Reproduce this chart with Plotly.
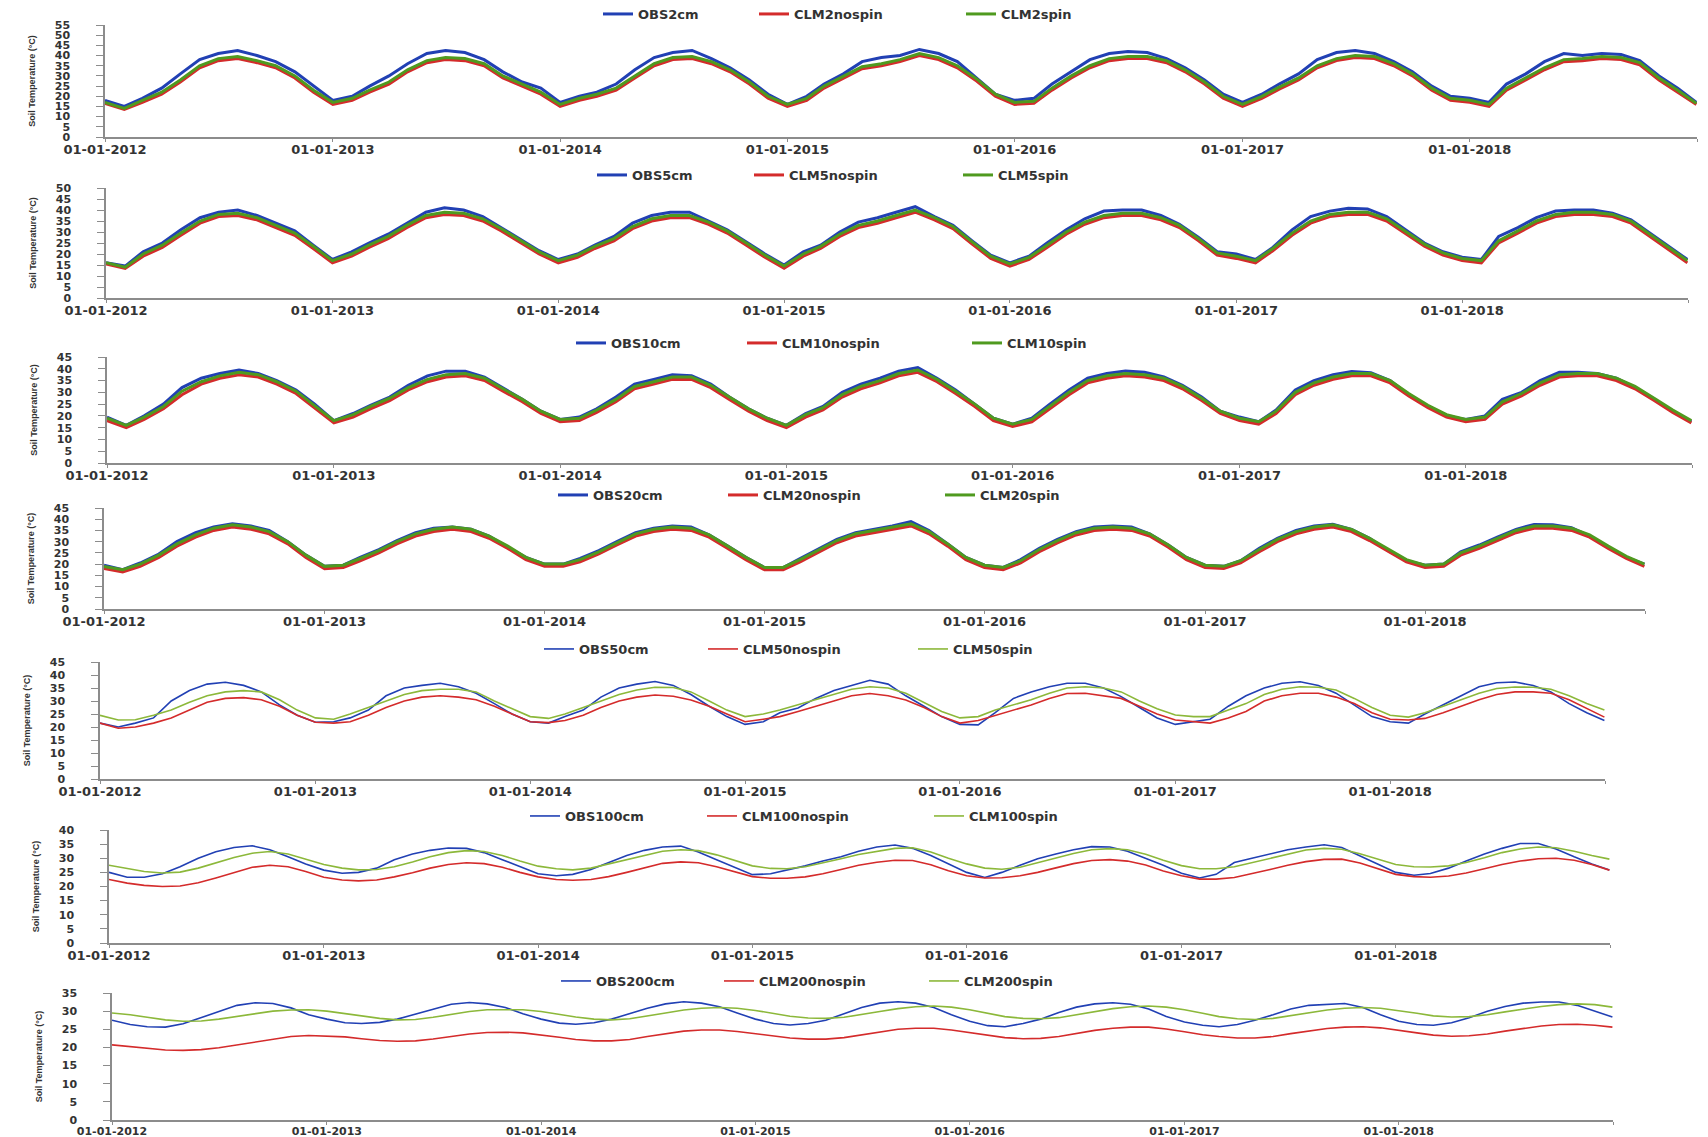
import pandas as pd
import plotly.graph_objects as go

# ---------------- data (monthly values, °C) ----------------
dates = list(pd.date_range("2012-01-01", periods=84, freq="MS")) + [pd.Timestamp("2018-12-31")]

obs2 = [18, 15, 19, 24, 31, 38, 41, 42.5, 40, 37, 32, 25,
        18, 20, 25, 30, 36, 41, 42.5, 41.5, 38, 32, 27, 24,
        17, 20, 22, 26, 33, 39, 41.5, 42.5, 38.5, 34, 28, 21,
        16, 20, 26, 31, 37, 39, 40, 43, 41, 37, 29, 21,
        18, 19, 26, 32, 38, 41, 42, 41.5, 38.5, 34, 28, 21,
        17, 21, 26, 31, 38, 41.5, 42.5, 41, 37, 32, 25, 20,
        19, 17, 26, 31, 37, 41, 40, 41, 40.5, 37.5, 30, 24, 17]
clm2_nospin = [16.5, 13.5, 17, 21, 27, 34, 37.5, 38.5, 36.5, 34, 29, 22,
               16, 18, 22, 26, 32, 36.5, 38, 37.5, 35, 29, 25, 21,
               15, 18, 20, 23, 29, 35, 38, 38.5, 36, 32, 26, 19,
               15, 18, 24, 29, 33.5, 35, 37, 40, 38, 34, 27.5, 20,
               16, 16.5, 23, 29, 34, 37.5, 38.5, 38.5, 36.5, 32, 26, 19,
               15, 19, 23.5, 28, 34, 37.5, 39, 38.5, 35, 30, 23, 18,
               17, 15, 23, 28, 33, 37, 37.5, 38.5, 38, 35.5, 28, 22, 16]
clm2_spin = [17, 14, 18, 22, 28, 35, 38.5, 39.5, 37.5, 35, 30, 23,
             17, 19, 23, 27, 33, 37.5, 39, 38.5, 36, 30, 26, 22,
             16, 19, 21, 24, 30, 36, 39, 39.5, 37, 33, 27, 20,
             16, 19, 25, 30, 34.5, 36, 38, 41, 39, 35, 28.5, 21,
             17, 17.5, 24, 30, 35, 38.5, 39.5, 39.5, 37.5, 33, 27, 20,
             16, 20, 24.5, 29, 35, 38.5, 40, 39.5, 36, 31, 24, 19,
             18, 16, 24, 29, 34, 38, 38.5, 39.5, 39, 36.5, 29, 23, 16.5]

obs5 = [16, 14.5, 21, 25, 31, 36.5, 39, 40, 37.5, 34, 30.5, 24,
        17.5, 21, 25, 29, 34, 39, 41, 40, 37, 32, 26.5, 21.5,
        17.5, 20, 24, 28, 34, 37.5, 39, 39, 35, 31, 25.5, 20,
        15, 21, 24, 30, 34.5, 36.5, 39, 41.5, 37, 33, 26, 19.5,
        16, 19, 25, 31, 36, 39.5, 40, 40, 37.5, 33.5, 27.5, 21,
        20, 17.5, 23, 31, 37, 39.5, 40.8, 40.5, 37, 31, 25, 21,
        18.5, 17.5, 28, 32, 36.5, 39.5, 40, 40, 38.5, 35.5, 29.5, 23.5, 17.5]
clm5_nospin = [15.5, 13.5, 19, 23, 28.5, 34, 37, 37.5, 35.5, 32, 28.5, 22.5,
               16, 19, 23, 27, 32, 36.5, 38, 37.5, 35, 30.5, 25, 20,
               16, 18.5, 22.5, 26, 31.5, 35, 36.5, 36.5, 33.5, 29.5, 24, 18.5,
               13.5, 19, 22.5, 28, 32, 34, 36.5, 39, 35.5, 31.5, 24.5, 18,
               14.5, 17.5, 23, 29, 33.5, 36.5, 37.5, 37.5, 35.5, 32, 26, 19.5,
               18, 16, 21.5, 28.5, 34, 37, 38, 38, 35, 29.5, 23.5, 19.5,
               17, 16, 25, 29.5, 34, 37, 38, 38, 37, 34, 28, 22, 16]
clm5_spin = [16, 14, 20, 24, 29.5, 35, 38, 38.5, 36.5, 33, 29.5, 23.5,
             17, 20, 24, 28, 33, 37.5, 39, 38.5, 36, 31.5, 26, 21,
             17, 19.5, 23.5, 27, 32.5, 36, 37.5, 37.5, 34.5, 30.5, 25, 19.5,
             14.5, 20, 23.5, 29, 33, 35, 37.5, 40, 36.5, 32.5, 25.5, 19,
             15.5, 18.5, 24, 30, 34.5, 37.5, 38.5, 38.5, 36.5, 33, 27, 20.5,
             19, 17, 22.5, 29.5, 35, 38, 39, 39, 36, 30.5, 24.5, 20.5,
             18, 17, 26, 30.5, 35, 38, 39, 39, 38, 35, 29, 23, 17]

obs10 = [19.5, 16, 20, 25, 32, 36, 38, 39.5, 38, 35, 31, 25,
         18, 21, 24.5, 28, 33, 37, 39, 39, 36.5, 32, 27, 22,
         18.5, 19.5, 23, 28, 33.5, 35.5, 37.5, 37, 33.5, 28, 23, 19,
         16, 21, 24, 30, 33.5, 36, 39, 40.5, 36, 31, 25, 19,
         16.5, 19, 25, 31, 36, 38, 39, 38.5, 36.5, 33, 28, 22,
         19.5, 17.5, 22.5, 31, 35, 37.5, 38.8, 38.3, 35, 29, 24, 20,
         18.5, 20, 27, 30, 35, 38.5, 38.5, 38, 36, 32, 27, 22, 17.5]
clm10_nospin = [18, 15, 18.5, 23, 29, 33.5, 36, 37.5, 36.5, 33.5, 29.5, 23.5,
                17, 19.5, 23, 26.5, 31, 34.5, 36.5, 37, 35, 30.5, 26, 21,
                17.5, 18, 21.5, 26, 31.5, 33.5, 35.5, 35.5, 32, 27, 22, 18,
                15, 19.5, 22.5, 28, 31.5, 34, 37, 38.5, 34.5, 29.5, 24, 18,
                15.5, 17.5, 23, 29, 34, 36, 37, 36.5, 35, 31.5, 26.5, 21,
                18, 16.5, 21, 29, 33, 35.5, 37, 37, 34, 28.5, 23.5, 19.5,
                17.5, 18.5, 25, 28.5, 33, 36.5, 37, 37, 35, 31.5, 26.5, 21.5, 17]
clm10_spin = [19, 16, 19.5, 24, 30.5, 34.5, 37, 38.5, 37.5, 34.5, 30.5, 24.5,
              18, 20.5, 24, 27.5, 32, 35.5, 37.5, 38, 36, 31.5, 27, 22,
              18.5, 19, 22.5, 27, 32.5, 34.5, 36.5, 36.5, 33, 28, 23, 19,
              16, 20.5, 23.5, 29, 32.5, 35, 38, 39.5, 35.5, 30.5, 25, 19,
              16.5, 18.5, 24, 30, 35, 37, 38, 37.5, 36, 32.5, 27.5, 22,
              19, 17.5, 22, 30, 34, 36.5, 38, 38, 35, 29.5, 24.5, 20.5,
              18.5, 19.5, 26, 29.5, 34, 37.5, 38, 38, 36, 32.5, 27.5, 22.5, 18]

obs20 = [19.5, 17.5, 20.5, 24.5, 30, 34, 36.5, 38, 37, 35, 30, 24,
         19, 19.5, 23, 26.5, 30.5, 34, 36, 36.5, 35.5, 32.5, 27.5, 23,
         20, 20, 22.5, 26, 30, 34, 36, 37, 36.5, 33, 28, 23,
         18.5, 18.5, 22.5, 27, 31, 34, 35.5, 37, 39, 35, 29, 23,
         19.5, 18.5, 22, 27, 31, 34.5, 36.5, 37, 36.5, 33.5, 28.5, 23,
         19.5, 19, 21.5, 27, 31.5, 35, 37, 37.8, 35.5, 31.5, 26, 21.5,
         19.5, 20, 25.5, 28.5, 32, 35.5, 37.7, 37.5, 36.2, 32.5, 27.5, 23, 20]
clm20_nospin = [18, 16.5, 19, 23, 28, 32, 35, 36.5, 35.5, 33.5, 29, 23,
                18, 18.5, 21.5, 25, 29, 32.5, 34.5, 35.5, 34.5, 31.5, 27, 22,
                19, 19, 21, 24.5, 28.5, 32.5, 34.5, 35.5, 35, 32, 27, 22,
                17.5, 17.5, 21, 25.5, 29.5, 32.5, 34, 35.5, 37, 33.5, 28, 22,
                18.5, 17.5, 20.5, 25.5, 29.5, 33, 35, 35.5, 35, 32.5, 27.5, 22,
                18.5, 18, 20.5, 25.5, 30, 33.5, 35.5, 36.5, 34.5, 30.5, 25.5, 21,
                18.5, 19, 24, 27, 30.5, 34, 36, 36, 35, 32, 27, 22.5, 19]
clm20_spin = [19, 17.5, 20, 24, 29, 33, 36, 37.5, 36.5, 34.5, 30, 24,
              19, 19.5, 22.5, 26, 30, 33.5, 35.5, 36.5, 35.5, 32.5, 28, 23,
              20, 20, 22, 25.5, 29.5, 33.5, 35.5, 36.5, 36, 33, 28, 23,
              18.5, 18.5, 22, 26.5, 30.5, 33.5, 35, 36.5, 38, 34.5, 29, 23,
              19.5, 18.5, 21.5, 26.5, 30.5, 34, 36, 36.5, 36, 33.5, 28.5, 23,
              19.5, 19, 21.5, 26.5, 31, 34.5, 36.5, 37.5, 35.5, 31.5, 26.5, 22,
              19.5, 20, 25, 28, 31.5, 35, 37, 37, 36, 33, 28, 23.5, 20]

obs50 = [21.5, 20, 21.5, 23.5, 30, 34, 36.5, 37.2, 36, 33.5, 28.5, 24.5,
         21.8, 22, 23.5, 26.5, 32, 35, 36, 36.8, 35.5, 33, 29, 25,
         22, 21.5, 24, 26.5, 31.5, 35, 36.5, 37.5, 36, 32.5, 28, 24,
         21, 22, 25.5, 27.3, 31, 34, 36, 38, 36.5, 32, 28, 24,
         21, 20.8, 25.5, 31, 33.5, 35.5, 36.8, 36.8, 35, 31.7, 27.5, 23.5,
         21, 22, 23, 28, 32, 35, 36.8, 37.4, 36, 33, 28.5, 24,
         22, 21.5, 25, 28.5, 32, 35.5, 37, 37.3, 36, 33.5, 29, 25.5, 22.5]
clm50_nospin = [21.5, 19.5, 20, 21.5, 23.5, 26.5, 29.5, 31, 31.3, 30.5, 28, 24.5,
                21.8, 21.5, 22, 24.5, 27.5, 30, 31.5, 32, 31.5, 30.5, 28, 25,
                22, 21.7, 22.5, 24.5, 27.5, 30, 31.5, 32.3, 31.8, 30.4, 28, 25,
                22, 23, 24, 26, 28, 30, 32, 32.9, 32, 30.4, 27.5, 24,
                21.5, 22.5, 24.5, 26.5, 28.5, 31, 32.9, 33, 32, 31, 28, 25,
                22.7, 22, 21.5, 23.5, 26, 30, 32, 33, 33, 31.5, 29, 25.5,
                23, 22.7, 23.3, 25.5, 28, 30.5, 32.5, 33.5, 33.5, 33, 30.5, 27, 23.8]
clm50_spin = [24.5, 22.7, 22.8, 24.5, 26.5, 29.5, 32, 33.5, 34, 33.5, 30.5, 26.5,
              23.5, 23, 25, 27.5, 30, 32.5, 34, 34.5, 34.5, 33.5, 30, 27,
              24, 23.3, 25, 27.5, 30, 32.5, 34.2, 35.3, 35.2, 33.5, 30, 26.5,
              24, 25, 26.5, 28.5, 30.3, 32.5, 34.5, 35.5, 35, 33, 29.5, 26,
              23.5, 24, 26.5, 28.5, 30.5, 33, 35, 35.5, 35, 33.5, 30, 27,
              24.6, 24, 24, 26.5, 29, 32.5, 34.5, 35.5, 35.3, 34.2, 31, 27.5,
              24.5, 23.8, 25.5, 28, 30.5, 33, 34.8, 35.4, 35.3, 34.5, 32, 29, 26.5]

obs100 = [25, 23.3, 23.3, 24.5, 27, 30, 32.3, 33.8, 34.4, 33, 30.5, 28,
          25.8, 24.7, 25, 26.5, 29.5, 31.5, 32.8, 33.6, 33.5, 32, 29.5, 27,
          24.5, 23.8, 24.3, 26, 28.5, 31, 32.8, 34, 34.3, 32.2, 29.5, 27,
          24.2, 24.5, 25.8, 27.3, 29, 30.5, 32.5, 34, 34.7, 33.5, 31, 28,
          25, 23.2, 25, 27.5, 29.8, 31.5, 33, 34.1, 34, 32.5, 30, 27.5,
          24.7, 23, 24.3, 28.5, 30, 31.5, 33, 34, 34.8, 33.8, 31, 28,
          25, 24, 24.6, 26.5, 29, 31.5, 33.5, 35.2, 35.2, 33.3, 30.5, 28, 25.8]
clm100_nospin = [22.5, 21.2, 20.4, 20, 20.2, 21.3, 23, 25, 26.8, 27.5, 27, 25.3,
                 23.3, 22.3, 22, 22.3, 23.4, 24.9, 26.5, 27.8, 28.4, 28.1, 26.8, 25,
                 23.4, 22.5, 22.2, 22.5, 23.5, 25, 26.7, 28.2, 28.7, 28.4, 27, 25.2,
                 23.5, 22.9, 22.9, 23.4, 24.5, 26, 27.5, 28.6, 29.3, 29.2, 27.7, 25.6,
                 23.8, 23, 23.1, 23.8, 25, 26.6, 28.1, 29.2, 29.5, 29, 27.6, 25.5,
                 23.8, 22.6, 22.6, 23.2, 24.5, 26, 27.5, 28.8, 29.6, 29.7, 28.3, 26.2,
                 24.3, 23.5, 23.3, 23.7, 24.8, 26.3, 27.8, 29, 29.8, 30, 29.3, 27.8, 25.8]
clm100_spin = [27.5, 26.3, 25.3, 24.8, 25.1, 26.5, 28.4, 30.3, 31.8, 32.4, 31.5, 29.6,
               27.8, 26.5, 25.9, 26, 27, 28.7, 30.5, 32, 32.7, 32.4, 31, 29,
               27.2, 26.3, 25.9, 26.5, 28, 29.7, 31.2, 32.5, 33, 32.7, 31.2, 29.3,
               27.3, 26.4, 26.3, 27, 28.3, 29.8, 31.3, 32.5, 33.5, 33.7, 32.2, 30,
               28, 26.5, 26.1, 26.8, 28.4, 30, 31.7, 33, 33.4, 33, 31.4, 29.3,
               27.4, 26.3, 26.3, 27, 28.5, 30, 31.6, 32.9, 33.5, 33.2, 31.6, 29.6,
               27.8, 27, 26.9, 27.3, 28.5, 30.2, 32, 33.3, 34, 33.7, 32.5, 31, 29.7]

obs200 = [27.5, 26.3, 25.7, 25.6, 26.5, 28.2, 30, 31.6, 32.3, 32.1, 30.9, 29,
          27.8, 26.8, 26.6, 26.9, 27.8, 29.2, 30.7, 31.9, 32.4, 32, 31, 29.3,
          27.8, 26.7, 26.4, 26.8, 27.8, 29.3, 30.8, 32, 32.6, 32.2, 31.2, 29.5,
          27.8, 26.6, 26.2, 26.6, 27.5, 29.3, 31, 32.2, 32.6, 32.2, 31, 29,
          27.2, 26, 25.7, 26.6, 27.8, 29.6, 31.1, 32, 32.3, 31.9, 30.6, 28.5,
          27, 26.1, 25.7, 26.3, 27.5, 29, 30.6, 31.6, 31.9, 32.1, 31, 29,
          27.2, 26.3, 26.1, 26.8, 28.2, 30, 31.3, 32.2, 32.5, 32.5, 31.6, 30, 28.4]
clm200_nospin = [20.7, 20.2, 19.7, 19.3, 19.2, 19.4, 19.9, 20.7, 21.6, 22.4, 23, 23.3,
                 23.2, 22.9, 22.4, 21.9, 21.7, 21.8, 22.3, 23, 23.7, 24.1, 24.2, 24,
                 23.5, 22.8, 22.2, 21.8, 21.8, 22.2, 23, 23.8, 24.5, 24.8, 24.8, 24.4,
                 23.8, 23.1, 22.6, 22.3, 22.3, 22.7, 23.4, 24.3, 25, 25.3, 25.3, 24.8,
                 24.1, 23.3, 22.7, 22.4, 22.5, 23, 23.8, 24.7, 25.3, 25.6, 25.6, 25.1,
                 24.3, 23.5, 23, 22.6, 22.6, 23, 23.8, 24.6, 25.2, 25.6, 25.7, 25.4,
                 24.8, 24, 23.4, 23.1, 23.2, 23.7, 24.5, 25.3, 25.9, 26.3, 26.4, 26.1, 25.6]
clm200_spin = [29.5, 29, 28.3, 27.6, 27.2, 27.3, 27.8, 28.6, 29.4, 30, 30.3, 30.4,
               30, 29.3, 28.6, 28, 27.6, 27.7, 28.3, 29.1, 29.9, 30.4, 30.5, 30.4,
               29.9, 29.1, 28.4, 27.8, 27.6, 27.9, 28.6, 29.5, 30.3, 30.8, 31, 30.8,
               30.2, 29.4, 28.6, 28.1, 28, 28.3, 29, 29.9, 30.7, 31.2, 31.4, 31.1,
               30.4, 29.4, 28.5, 28, 27.9, 28.2, 29, 29.9, 30.7, 31.2, 31.4, 31.1,
               30.4, 29.4, 28.5, 27.9, 27.7, 28, 28.8, 29.6, 30.3, 30.8, 31, 30.8,
               30.2, 29.4, 28.7, 28.4, 28.5, 29, 29.8, 30.6, 31.3, 31.8, 32, 31.8, 31.1]

depths = ["2", "5", "10", "20", "50", "100", "200"]
obs_series = [obs2, obs5, obs10, obs20, obs50, obs100, obs200]
nospin_series = [clm2_nospin, clm5_nospin, clm10_nospin, clm20_nospin,
                 clm50_nospin, clm100_nospin, clm200_nospin]
spin_series = [clm2_spin, clm5_spin, clm10_spin, clm20_spin,
               clm50_spin, clm100_spin, clm200_spin]
y_max = [55, 50, 45, 45, 45, 40, 35]
year_ticks = ["2012-01-01", "2013-01-01", "2014-01-01", "2015-01-01",
              "2016-01-01", "2017-01-01", "2018-01-01", "2019-01-01"]
year_labels = ["01-01-2012", "01-01-2013", "01-01-2014", "01-01-2015",
               "01-01-2016", "01-01-2017", "01-01-2018", ""]

# ---------------- layout (pixel boxes of each panel) ----------------
W, H = 1708, 1137
boxes = [(105, 1697, 25, 137), (106, 1688, 188, 298), (107, 1692, 357, 463),
         (104, 1645, 508, 609), (100, 1605, 662, 779), (109, 1610, 830, 943),
         (112, 1613, 993, 1120)]
legend_x = [(604, 760, 967), (598, 755, 964), (577, 748, 973), (559, 729, 946),
            (545, 709, 919), (531, 708, 935), (562, 725, 930)]
legend_y = [14, 175, 343, 495, 649, 816, 981]
xlabel_shift = [-3, -3, -3, -3, -3, -3, -3]
xlabel_size = [13, 13, 13, 13, 13, 13, 11]

BLUE = "#2140b4"
RED = "#d42b2b"
GREEN_DARK = "#4f9a1f"
GREEN_LIGHT = "#8cb83a"
TXT = "#333333"
FONT = "DejaVu Sans"

fig = go.Figure()
layout = dict(
    width=W, height=H, margin=dict(l=0, r=0, t=0, b=0, autoexpand=False),
    paper_bgcolor="white", plot_bgcolor="white", showlegend=True,
)

leg_idx = 0
for i in range(7):
    x0, x1, yt, yb = boxes[i]
    ax = "" if i == 0 else str(i + 1)
    shallow = i < 4
    lw = 3 if shallow else 1.6
    green = GREEN_DARK if shallow else GREEN_LIGHT
    names = ["OBS%scm" % depths[i], "CLM%snospin" % depths[i], "CLM%sspin" % depths[i]]
    vals = [obs_series[i], nospin_series[i], spin_series[i]]
    cols = [BLUE, RED, green]
    for k in range(3):
        leg_idx += 1
        lname = "legend" if leg_idx == 1 else "legend%d" % leg_idx
        fig.add_trace(go.Scatter(
            x=dates, y=vals[k], mode="lines", name=names[k],
            line=dict(color=cols[k], width=lw),
            xaxis="x" + ax, yaxis="y" + ax, legend=lname,
        ))
        layout[lname] = dict(
            x=(legend_x[i][k] - 6) / W, xanchor="left",
            y=1 - legend_y[i] / H, yanchor="middle",
            orientation="h", bgcolor="rgba(0,0,0,0)", borderwidth=0,
            itemwidth=30, tracegroupgap=0,
            font=dict(family=FONT, size=13, color=TXT, weight="bold"),
        )
    layout["xaxis" + ax] = dict(
        domain=[x0 / W, x1 / W], anchor="y" + ax, type="date", automargin=False,
        range=["2012-01-01", "2019-01-01"],
        tickmode="array", tickvals=year_ticks, ticktext=year_labels,
        showline=True, linecolor="#8c8c8c", linewidth=1.5,
        ticks="outside", ticklen=3, tickcolor="#8c8c8c",
        ticklabelstandoff=xlabel_shift[i],
        showgrid=False, zeroline=False,
        tickfont=dict(family=FONT, size=xlabel_size[i], color=TXT, weight="bold"),
    )
    layout["yaxis" + ax] = dict(
        domain=[1 - yb / H, 1 - yt / H], anchor="x" + ax, automargin=False,
        range=[0, y_max[i]], dtick=5, tick0=0,
        showline=True, linecolor="#8c8c8c", linewidth=1.5,
        ticks="outside", ticklen=7, tickcolor="#8c8c8c",
        ticklabelstandoff=24,
        showgrid=False, zeroline=False,
        tickfont=dict(family=FONT, size=11, color=TXT, weight="bold"),
        title=dict(text="Soil Temperature (\u00b0C)", standoff=18,
                   font=dict(family="Liberation Sans", size=9, color=TXT, weight="bold")),
    )

fig.update_layout(**layout)
fig.write_html("out.html")
